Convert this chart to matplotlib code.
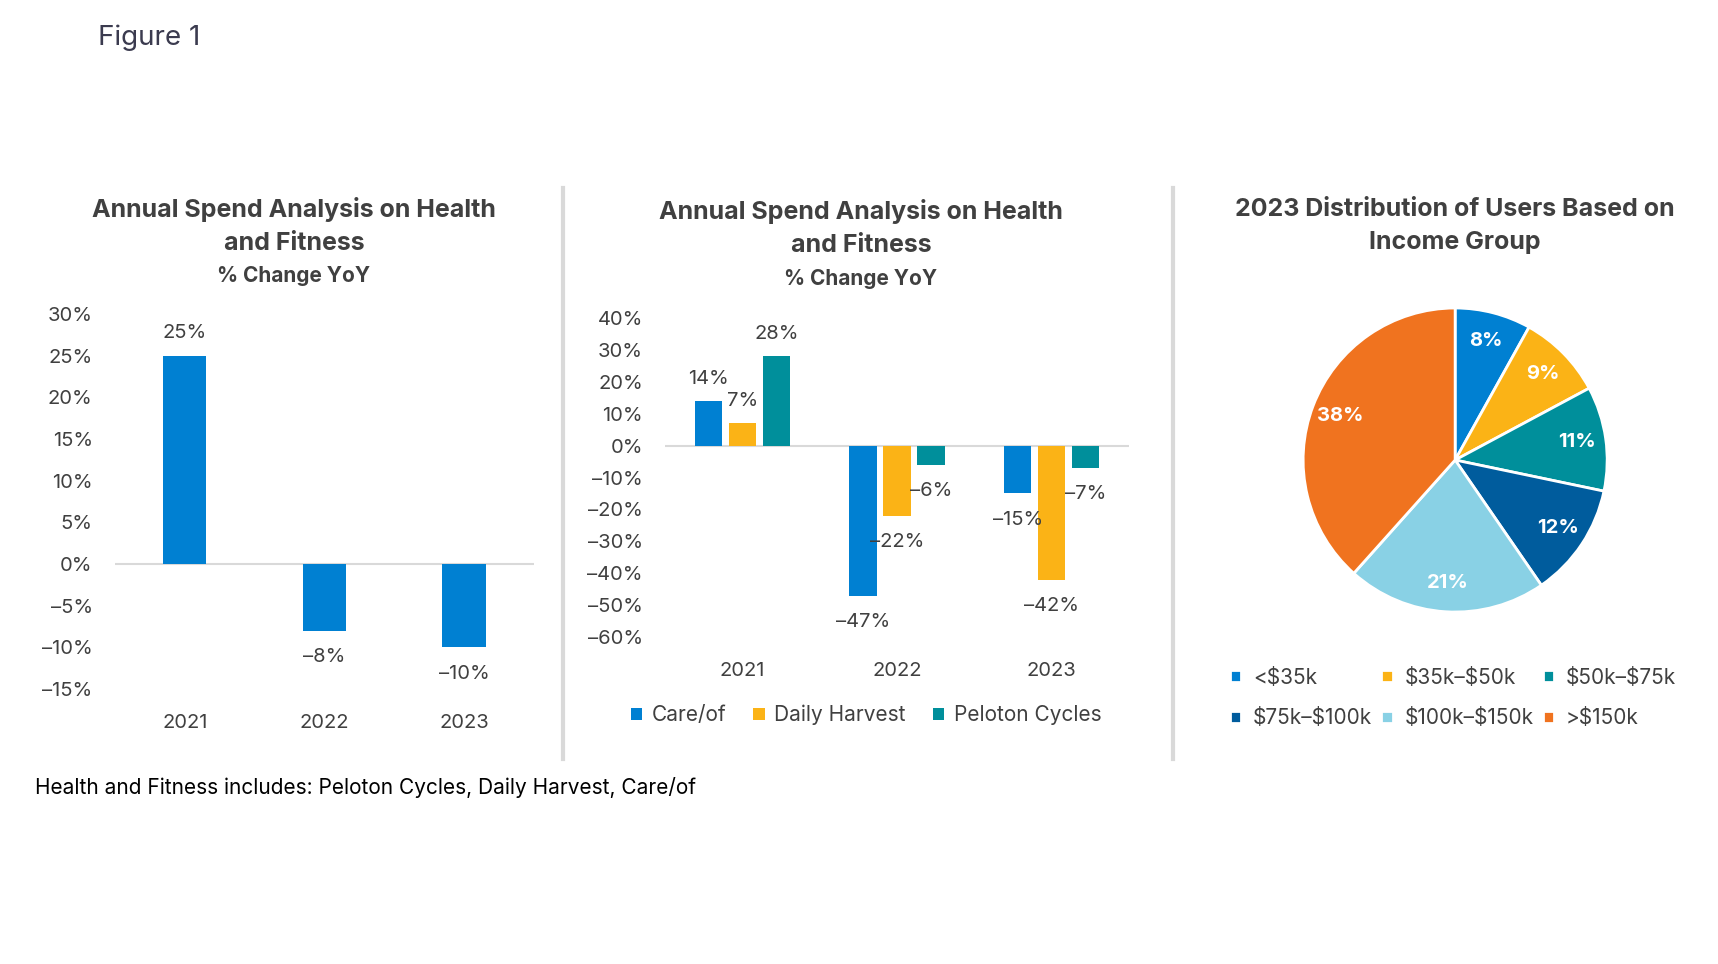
import numpy as np
import matplotlib.pyplot as plt
from matplotlib.lines import Line2D
from matplotlib.ticker import FuncFormatter

plt.rcParams['font.family'] = ['Inter', 'DejaVu Sans']

# data
years = ['2021', '2022', '2023']
total_change = [25, -8, -10]

brands = ['Care/of', 'Daily Harvest', 'Peloton Cycles']
careof = [14, -47, -15]
daily_harvest = [7, -22, -42]
peloton = [28, -6, -7]

income_groups = ['<\\$35k', '\\$35k–\\$50k', '\\$50k–\\$75k',
                 '\\$75k–\\$100k', '\\$100k–\\$150k', '>\\$150k']
income_share = [8, 9, 11, 12, 21, 38]

BLUE = '#0080d2'
YELLOW = '#fbb316'
TEAL = '#008f9b'
NAVY = '#005c9d'
SKY = '#89d1e5'
ORANGE = '#f0731f'
TXT = '#404040'
GRID = '#d9d9d9'

pct_fmt = FuncFormatter(lambda v, p: f"{v:.0f}%".replace('-', '–'))


def style_bar_axes(ax):
    for s in ax.spines.values():
        s.set_visible(False)
    ax.axhline(0, color=GRID, lw=1.5, zorder=0)
    ax.tick_params(length=0, labelsize=14.5, labelcolor=TXT)
    ax.tick_params(axis='y', pad=16)
    ax.tick_params(axis='x', pad=18)
    ax.yaxis.set_major_formatter(pct_fmt)
    ax.set_xlim(-0.5, 2.5)


def label_bars(ax, bars, vals):
    for b, v in zip(bars, vals):
        off = 16 if v > 0 else -19
        ax.annotate(f"{v}%".replace('-', '–'), (b.get_x() + b.get_width() / 2, v),
                    xytext=(0, off), textcoords='offset points',
                    ha='center', va='center', fontsize=14.5, color=TXT)


fig = plt.figure(figsize=(17.18, 9.64), dpi=100)

fig.text(98 / 1718, 1 - 38 / 964, 'Figure 1', fontsize=20, color='#3b3b4f',
         va='center', ha='left')

# left chart
ax1 = fig.add_axes([0.0669, 0.2853, 0.2439, 0.389])
x = np.arange(len(years))
b1 = ax1.bar(x, total_change, width=0.31, color=BLUE)
style_bar_axes(ax1)
ax1.set_ylim(-15, 30)
ax1.set_yticks(np.arange(-15, 31, 5))
ax1.set_xticks(x, years)
label_bars(ax1, b1, total_change)

for y, t, fs in [(209, 'Annual Spend Analysis on Health', 18), (243, 'and Fitness', 18),
                 (276, '% Change YoY', 15)]:
    fig.text(294 / 1718, 1 - y / 964, t, ha='center', va='center',
             fontsize=fs, fontweight='bold', color=TXT)

# middle chart
ax2 = fig.add_axes([0.3871, 0.3392, 0.2701, 0.3309])
w = 0.177
gap = 0.22
series = [careof, daily_harvest, peloton]
cols = [BLUE, YELLOW, TEAL]
handles = []
for i, (vals, c, name) in enumerate(zip(series, cols, brands)):
    bb = ax2.bar(x + (i - 1) * gap, vals, width=w, color=c, label=name)
    label_bars(ax2, bb, vals)
    handles.append(bb)
style_bar_axes(ax2)
ax2.set_ylim(-60, 40)
ax2.set_yticks(np.arange(-60, 41, 10))
ax2.set_xticks(x, years)

for y, t, fs in [(212, 'Annual Spend Analysis on Health', 18), (246, 'and Fitness', 18),
                 (279, '% Change YoY', 15)]:
    fig.text(861 / 1718, 1 - y / 964, t, ha='center', va='center',
             fontsize=fs, fontweight='bold', color=TXT)

fig.legend(handles, brands, loc='center', bbox_to_anchor=(866 / 1718, 1 - 715 / 964),
           ncol=3, frameon=False, fontsize=15, labelcolor=TXT,
           handlelength=0.55, handleheight=0.55, handletextpad=0.45, columnspacing=1.3)

# pie chart
ax3 = fig.add_axes([0.7585, 0.3651, 0.1770, 0.3154])
pie_cols = [BLUE, YELLOW, TEAL, NAVY, SKY, ORANGE]
wedges, texts = ax3.pie(income_share, colors=pie_cols, startangle=90, counterclock=False,
                        labels=[f"{v}%" for v in income_share], labeldistance=0.81,
                        wedgeprops=dict(edgecolor='white', linewidth=2))
for t in texts:
    t.set_ha('center')
    t.set_va('center')
    t.set_color('white')
    t.set_fontweight('bold')
    t.set_fontsize(14.5)
ax3.set_xlim(-1, 1)
ax3.set_ylim(-1, 1)
ax3.set_aspect('equal')

for y, t in [(209, '2023 Distribution of Users Based on'), (243, 'Income Group')]:
    fig.text(1455 / 1718, 1 - y / 964, t, ha='center', va='center',
             fontsize=18, fontweight='bold', color=TXT)

order = [0, 3, 1, 4, 2, 5]
fig.legend([wedges[i] for i in order], [income_groups[i] for i in order],
           loc='center', bbox_to_anchor=(1453 / 1718, 1 - 698 / 964),
           ncol=3, frameon=False, fontsize=15, labelcolor=TXT,
           handlelength=0.55, handleheight=0.55, handletextpad=0.55, columnspacing=0.45,
           labelspacing=1.0)

# dividers
for xd in [563, 1173]:
    fig.add_artist(Line2D([xd / 1718] * 2, [1 - 188 / 964, 1 - 759 / 964],
                          transform=fig.transFigure, color=GRID, lw=3))

fig.text(35 / 1718, 1 - 787 / 964,
         'Health and Fitness includes: Peloton Cycles, Daily Harvest, Care/of',
         ha='left', va='center', fontsize=15, color='black')

fig.savefig('out.png', dpi=100)
